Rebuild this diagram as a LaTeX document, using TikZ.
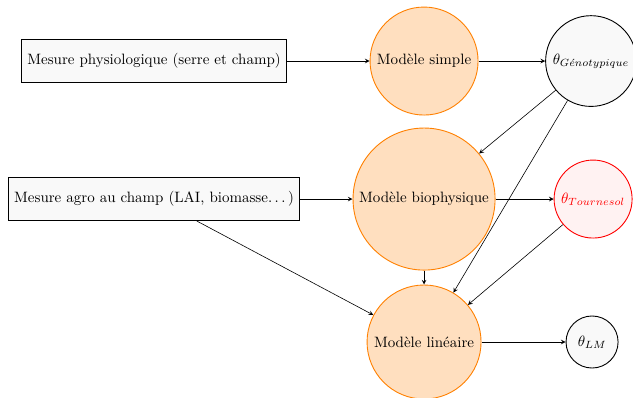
\documentclass[tikz,border=0pt]{standalone}
\usepackage{amsmath}
\usepackage{xcolor}
\usepackage{tikz}
\usetikzlibrary{shapes,arrows,positioning}

\newcommand{\pts}{.\kern\fontdimen3\font.\kern\fontdimen3\font.\kern\fontdimen3\font}

\begin{document}
\begin{tikzpicture}[
    on grid,
    mesure/.style={draw, semithick, fill=gray!5, minimum height=28.7pt, inner xsep=4pt, align=center},
    modele/.style={circle, draw=orange, semithick, fill=orange!25, inner sep=1pt, align=center},
    param/.style={circle, draw, semithick, fill=gray!5, inner sep=1pt},
    arrow/.style={->, >=stealth}
]

% Frame (simple at the origin)
\useasboundingbox (-282.7pt,40.7pt) rectangle (139.3pt,-224pt);

% Modeles
\node[modele, minimum size=72pt] (simple) at (0,0) {Mod\`ele simple};
\node[modele, minimum size=94.7pt, below=92pt of simple] (bio) {Mod\`ele biophysique};
\node[modele, minimum size=76pt, below=95.3pt of bio] (lin) {Mod\`ele lin\'eaire};

% Mesures
\node[mesure, left=180pt of simple] (physio) {Mesure physiologique (serre et champ)};
\node[mesure, left=180pt of bio] (agro) {Mesure agro au champ (LAI, biomasse\pts)};
\coordinate (agrobas) at ([xshift=-69pt]agro.south east);

% Parametres
\node[param, minimum size=60.5pt, right=111.3pt of simple] (genot) {$\theta_{G\acute{e}notypique}$};
\node[param, draw=red, fill=red!5, text=red, minimum size=52pt, right=112.7pt of bio] (tourn) {$\theta_{Tournesol}$};
\node[param, minimum size=34.7pt, right=112pt of lin] (lm) {$\theta_{LM}$};

% Arrows
\draw[arrow] (physio) -- (simple);
\draw[arrow] (simple) -- (genot);
\draw[arrow] (genot) -- (bio);
\draw[arrow] (genot) -- (lin);
\draw[arrow] (agro) -- (bio);
\draw[arrow] (bio) -- (tourn);
\draw[arrow] (tourn) -- (lin);
\draw[arrow] (bio) -- (lin);
\draw[arrow] (agrobas) -- (lin);
\draw[arrow] (lin) -- (lm);

\end{tikzpicture}
\end{document}
